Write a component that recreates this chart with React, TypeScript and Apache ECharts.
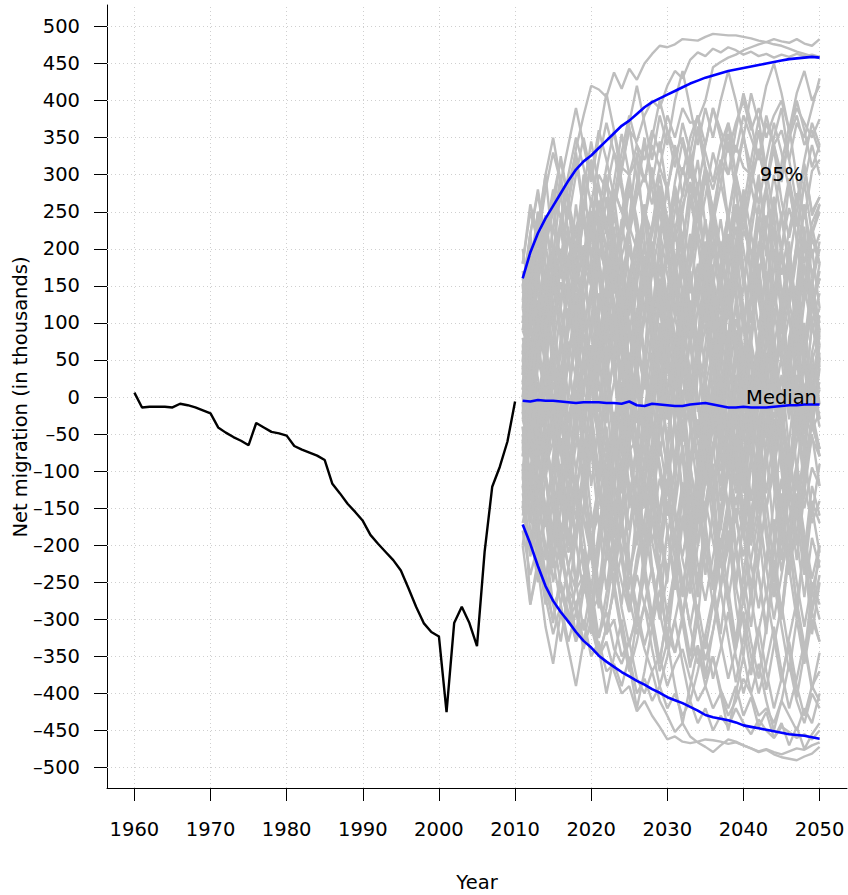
import { useEffect, useRef } from "react";
import * as echarts from "echarts";

// Observed net migration, 1960-2010 (thousands)
const historyYears = [
  1960, 1961, 1962, 1963, 1964, 1965, 1966, 1967, 1968, 1969,
  1970, 1971, 1972, 1973, 1974, 1975, 1976, 1977, 1978, 1979,
  1980, 1981, 1982, 1983, 1984, 1985, 1986, 1987, 1988, 1989,
  1990, 1991, 1992, 1993, 1994, 1995, 1996, 1997, 1998, 1999,
  2000, 2001, 2002, 2003, 2004, 2005, 2006, 2007, 2008, 2009, 2010,
];
const historyValues = [
  6, -14, -13, -13, -13, -14, -9, -11, -14, -18,
  -22, -41, -48, -54, -59, -65, -35, -41, -47, -49,
  -52, -66, -71, -75, -79, -85, -117, -130, -144, -155,
  -167, -186, -198, -209, -220, -234, -258, -283, -305, -317,
  -323, -425, -305, -283, -305, -336, -209, -121, -94, -60, -6,
];

// Projection horizon
const projectionYears = [
  2011, 2012, 2013, 2014, 2015, 2016, 2017, 2018, 2019, 2020,
  2021, 2022, 2023, 2024, 2025, 2026, 2027, 2028, 2029, 2030,
  2031, 2032, 2033, 2034, 2035, 2036, 2037, 2038, 2039, 2040,
  2041, 2042, 2043, 2044, 2045, 2046, 2047, 2048, 2049, 2050,
];
const medianValues = [
  -5, -6, -4, -5, -5, -6, -7, -8, -7, -7,
  -7, -8, -8, -9, -6, -11, -12, -9, -10, -11,
  -12, -12, -10, -9, -8, -10, -12, -14, -14, -13,
  -14, -14, -14, -13, -12, -11, -11, -10, -10, -10,
];
const upper95 = [
  160, 195, 221, 241, 258, 275, 292, 307, 318, 326,
  336, 346, 356, 366, 373, 382, 391, 398, 403, 408,
  413, 418, 423, 427, 431, 434, 437, 440, 442, 444,
  446, 448, 450, 452, 454, 456, 457, 458, 459, 458,
];
const lower95 = [
  -172, -198, -228, -255, -275, -290, -303, -317, -329, -338,
  -349, -357, -364, -371, -377, -383, -388, -394, -399, -405,
  -409, -413, -418, -423, -429, -432, -434, -436, -439, -443,
  -445, -447, -449, -451, -453, -455, -456, -457, -459, -461,
];

// Simulated trajectories 2011-2050
const trajectories = [
  [150, 205, 175, 245, 225, 290, 265, 335, 380, 420, 415, 405, 438, 416, 443, 428, 450, 463, 474, 472, 476, 483, 482, 481, 486, 490, 489, 488, 488, 486, 484, 481, 479, 476, 474, 470, 466, 463, 460, 458],
  [60, 110, 80, 140, 170, 130, 190, 220, 180, 250, 230, 290, 260, 310, 300, 340, 320, 360, 330, 380, 350, 390, 370, 373, 400, 445, 452, 458, 462, 468, 472, 476, 479, 483, 480, 478, 483, 477, 474, 483],
  [90, 60, 130, 100, 160, 200, 170, 230, 260, 240, 300, 280, 330, 310, 360, 345, 380, 400, 390, 420, 440, 430, 455, 465, 460, 470, 465, 472, 468, 462, 466, 460, 463, 458, 462, 459, 463, 460, 462, 459],
  [40, 80, 50, 110, 70, 130, 160, 120, 180, 150, 200, 170, 140, 190, 230, 200, 250, 220, 270, 240, 210, 260, 290, 250, 310, 280, 320, 300, 340, 310, 300, 330, 290, 340, 360, 320, 370, 350, 390, 430],
  [20, 70, 110, 90, 150, 130, 190, 210, 170, 230, 260, 220, 280, 250, 300, 320, 290, 340, 310, 360, 330, 300, 350, 380, 340, 390, 360, 330, 370, 400, 360, 390, 350, 380, 400, 360, 390, 370, 350, 375],
  [100, 140, 110, 170, 200, 160, 220, 190, 240, 210, 260, 230, 280, 250, 220, 270, 300, 260, 310, 280, 330, 350, 310, 360, 330, 290, 340, 370, 330, 380, 350, 320, 370, 340, 300, 350, 380, 340, 360, 330],
  [-120, -160, -140, -200, -230, -210, -260, -280, -250, -300, -320, -290, -340, -360, -330, -380, -400, -370, -410, -430, -452, -440, -458, -466, -472, -479, -470, -462, -465, -470, -474, -479, -476, -482, -486, -488, -490, -485, -481, -472],
  [-150, -200, -180, -240, -280, -260, -300, -280, -330, -310, -350, -330, -370, -400, -390, -424, -410, -430, -445, -462, -458, -465, -467, -465, -462, -463, -465, -468, -466, -470, -474, -478, -475, -479, -482, -478, -474, -476, -470, -466],
  [-100, -280, -220, -260, -300, -250, -290, -330, -300, -350, -330, -370, -360, -390, -350, -400, -380, -410, -390, -420, -400, -430, -410, -440, -420, -450, -430, -445, -420, -440, -455, -435, -450, -460, -445, -452, -460, -455, -462, -450],
  [-60, -110, -80, -150, -190, -170, -230, -260, -240, -290, -270, -320, -300, -350, -330, -300, -340, -370, -350, -390, -360, -340, -380, -410, -390, -420, -400, -430, -410, -380, -400, -430, -420, -440, -410, -430, -450, -420, -440, -400],
  [-30, -70, -45, -95, -60, -120, -150, -110, -165, -190, -160, -220, -205, -250, -290, -240, -280, -310, -260, -320, -345, -300, -360, -335, -380, -350, -395, -420, -390, -430, -405, -445, -425, -460, -440, -470, -445, -475, -455, -440],
  [30, 107, -24, 28, 165, 89, -10, 21, 129, 176, 8, 27, 114, 63, -73, -56, -130, 3, 73, 46, 181, 223, 101, 131, 88, 179, -9, -48, 47, 62, -54, -109, 52, 77, -21, 81, 123, -29, -46, 39],
  [-60, -140, -35, -110, -190, -90, -150, -40, -130, -220, -120, -200, -260, -150, -60, -170, -110, -230, -290, -180, -240, -130, -210, -300, -190, -250, -150, -90, -200, -270, -170, -240, -320, -210, -130, -230, -300, -190, -260, -220],
  [80, 20, 130, 60, 180, 230, 140, 70, 160, 250, 190, 90, 30, 120, 200, 150, 240, 310, 210, 130, 60, 150, 90, -20, 70, 160, 110, 190, 260, 170, 100, 200, 280, 190, 120, 30, 110, 60, 150, 200],
  [-110, -40, -150, -90, -20, -120, -200, -100, -30, 40, -60, -160, -80, 10, -70, -170, -240, -150, -60, -130, -30, 50, -40, -130, -60, 20, 100, 10, -90, -20, 60, -40, -130, -50, 30, -70, -150, -80, 10, -40],
  [140, 190, 110, 200, 260, 180, 90, 170, 240, 150, 220, 290, 210, 130, 40, 110, 190, 120, 50, 140, 230, 170, 260, 320, 230, 150, 210, 130, 60, 150, 240, 300, 220, 140, 190, 110, 40, 130, 200, 120],
  [-20, 60, -40, -110, -20, 40, -60, 30, 110, 20, -70, -150, -60, 20, -80, -160, -90, 0, 80, -10, -100, -30, -130, -200, -110, -30, 50, -40, -120, -50, 30, -60, -150, -80, -170, -240, -150, -70, -160, -90],
  [50, -30, 70, 140, 60, -20, -100, -20, 60, -40, 30, 110, 190, 100, 170, 90, 10, 90, -10, 70, 150, 60, -30, 50, 130, 60, 140, 220, 130, 50, -30, 50, 140, 60, -20, 70, 150, 70, 160, 90],
  [-150, -90, -190, -250, -170, -100, -200, -130, -230, -290, -200, -120, -210, -280, -190, -110, -30, -120, -200, -110, -190, -260, -180, -90, -170, -250, -320, -230, -150, -240, -310, -220, -140, -230, -300, -210, -130, -220, -290, -200],
  [110, 40, 130, 70, -10, 80, 160, 90, 10, 100, 180, 110, 30, -50, 40, 120, 50, -30, 60, 140, 70, -10, 80, 160, 240, 150, 70, 160, 80, 0, 90, 170, 100, 20, -60, 30, 110, 40, -40, 50],
  [-80, 0, -90, -30, 60, -20, -110, -40, 50, -30, -120, -200, -120, -40, -120, -200, -110, -30, -100, -180, -260, -170, -90, -170, -80, 0, -80, -160, -70, 10, -70, -150, -230, -140, -60, -140, -220, -130, -50, -120],
  [170, 110, 200, 140, 230, 300, 220, 160, 250, 190, 120, 200, 270, 190, 110, 180, 260, 190, 120, 200, 280, 210, 140, 220, 300, 220, 150, 240, 170, 100, 180, 260, 190, 270, 200, 130, 210, 290, 220, 250],
  [0, -70, 20, -50, -120, -40, 50, -30, -110, -30, 50, 130, 50, -30, 60, -20, -100, -10, 70, -10, -90, -10, 80, 0, -80, 10, -70, -150, -60, 20, -60, 30, 110, 30, -50, 40, -40, 50, 130, 50],
  [-130, -200, -120, -50, -130, -210, -270, -190, -110, -190, -270, -180, -250, -160, -80, -160, -240, -310, -220, -140, -220, -300, -210, -130, -210, -280, -190, -260, -330, -240, -160, -240, -310, -220, -290, -200, -280, -350, -260, -300],
  [60, 130, 70, 150, 90, 20, 100, 180, 110, 40, 120, 200, 130, 60, 140, 220, 150, 80, 160, 90, 20, 100, 180, 260, 180, 100, 180, 250, 170, 90, 170, 240, 160, 80, -10, 70, 150, 80, 10, 90],
  [-30, 40, 110, 40, -40, 30, -50, -130, -50, 30, 110, 40, -40, 40, 120, 200, 120, 40, 120, 50, -30, 50, 130, 60, -20, 60, -20, -100, -20, 60, 140, 60, -20, 60, -20, -100, -30, 50, 130, 70],
  [120, 60, -10, 70, 150, 80, 0, 80, 160, 240, 160, 80, 160, 90, 10, 90, 170, 100, 20, -60, 20, 100, 30, -50, 30, 110, 40, 120, 200, 120, 40, -40, 40, 120, 50, -30, 50, -30, 60, -10],
  [-90, -160, -80, -150, -230, -150, -70, -140, -220, -290, -200, -120, -40, -120, -40, 40, -40, -120, -200, -120, -200, -270, -180, -100, -180, -260, -170, -90, -170, -90, -10, -90, -170, -250, -160, -80, -160, -240, -150, -210],
  [90, 170, 250, 180, 100, 180, 260, 190, 110, 30, 110, 190, 110, 30, -50, 30, 110, 190, 270, 190, 110, 190, 120, 40, 120, 200, 130, 50, -30, 50, 130, 210, 130, 50, -30, 50, -30, 60, 140, 80],
  [-50, -120, -190, -110, -30, -110, -190, -110, -190, -260, -180, -100, -20, -100, -180, -100, -20, 60, -20, -100, -30, 50, 130, 50, -30, 50, -30, -110, -30, -110, -190, -110, -30, 50, -30, -110, -190, -270, -190, -230],
  [20, -40, 40, 120, 50, -30, 50, 130, 60, -20, -100, -20, 60, 140, 220, 140, 60, -20, 60, -20, 60, 140, 70, -10, -90, -10, 70, -10, -90, -170, -90, -10, 70, 150, 70, -10, 70, 150, 230, 180],
  [70, 95, 160, 120, 175, 240, 215, 150, 190, 265, 230, 175, 105, 170, 205, 150, 110, 185, 250, 210, 140, 180, 95, 60, 130, 210, 165, 105, 150, 225, 195, 130, 70, 125, 190, 160, 100, 55, 120, 160],
  [-170, -120, -200, -160, -95, -140, -210, -175, -105, -60, -130, -180, -115, -175, -240, -190, -130, -195, -150, -90, -150, -220, -265, -200, -140, -195, -250, -205, -135, -185, -255, -210, -150, -100, -160, -230, -180, -120, -170, -140],
  [40, -5, -60, 10, 70, 30, -35, 20, 85, 45, -10, 55, 110, 60, -5, 50, 120, 180, 120, 55, 110, 170, 110, 40, 95, 35, -30, 25, 90, 40, -20, 45, 105, 55, -10, 50, 110, 60, 0, 70],
  [-60, -15, 50, 10, -45, 20, 75, 25, -40, 15, 80, 140, 90, 25, 85, 30, -35, 20, -45, 10, 70, 25, -35, -95, -40, 15, -50, -110, -55, 5, 60, 5, -55, -5, 55, 110, 60, -5, 45, 10],
  [130, 95, 40, 100, 160, 120, 60, 115, 170, 230, 185, 125, 180, 235, 290, 240, 175, 230, 285, 225, 165, 215, 270, 210, 150, 90, 150, 205, 260, 200, 135, 190, 245, 185, 240, 295, 240, 180, 235, 260],
  [-110, -165, -120, -60, -115, -175, -230, -180, -120, -175, -120, -60, -115, -60, 0, -55, -115, -60, -5, 50, 0, -60, -5, -60, -120, -65, -10, -70, -130, -75, -20, 35, -20, -80, -25, -85, -145, -90, -30, -80],
  [10, 75, 25, -40, 20, -35, -95, -40, 15, 70, 20, -35, 20, 80, 25, -35, 25, -30, -90, -150, -95, -40, 15, 70, 125, 70, 10, 60, 120, 60, 0, 55, -5, -65, -5, 55, 0, -60, -10, 20],
  [100, 150, 210, 160, 100, 155, 95, 150, 205, 150, 90, 30, 85, 140, 85, 25, -30, 25, 80, 140, 85, 25, 80, 140, 200, 145, 85, 140, 80, 20, 75, 20, 80, 140, 85, 145, 205, 150, 90, 120],
  [-20, -75, -130, -70, -125, -185, -125, -65, -5, -60, -120, -180, -235, -175, -115, -170, -225, -170, -110, -160, -100, -40, -95, -150, -90, -145, -205, -150, -90, -145, -200, -145, -85, -30, -85, -145, -90, -150, -95, -120],
  [60, 10, -45, 10, 70, 25, -30, 30, 90, 150, 95, 40, 100, 160, 100, 45, 105, 165, 225, 165, 110, 50, 105, 165, 110, 50, -10, 45, 105, 50, -5, 55, 115, 60, 0, 55, 115, 175, 120, 90],
  [150, 220, 275, 205, 250, 325, 265, 215, 280, 345, 285, 235, 290, 355, 300, 225, 165, 220, 285, 215, 290, 345, 295, 365, 305, 240, 310, 355, 300, 255, 320, 375, 305, 245, 315, 365, 295, 240, 305, 320],
  [-140, -215, -165, -240, -305, -235, -185, -250, -315, -255, -325, -265, -210, -285, -335, -290, -225, -295, -355, -295, -240, -305, -365, -300, -375, -315, -260, -325, -385, -325, -270, -335, -395, -335, -280, -345, -405, -345, -290, -330],
  [40, 115, 180, 245, 165, 225, 285, 330, 255, 315, 245, 195, 255, 305, 365, 295, 240, 290, 345, 275, 225, 275, 325, 255, 310, 245, 195, 245, 305, 355, 285, 235, 285, 335, 265, 215, 265, 315, 245, 270],
  [-40, -115, -180, -245, -185, -255, -305, -255, -205, -275, -325, -285, -215, -165, -225, -285, -335, -295, -225, -295, -345, -295, -245, -305, -355, -315, -255, -195, -255, -305, -375, -315, -265, -325, -385, -325, -275, -335, -395, -345],
  [0, 65, 125, 70, 145, 195, 155, 85, 150, 215, 265, 225, 155, 105, 165, 215, 175, 105, 175, 225, 285, 245, 175, 245, 295, 255, 185, 135, 195, 255, 195, 145, 75, 145, 205, 255, 215, 145, 215, 180],
  [-100, -45, -115, -175, -125, -55, -135, -195, -265, -195, -145, -75, -155, -205, -285, -215, -165, -95, -175, -235, -185, -115, -195, -125, -75, -145, -215, -275, -205, -155, -225, -285, -215, -165, -235, -165, -115, -185, -245, -200],
  [50, 5, -65, -15, 45, -35, -95, -165, -95, -45, -115, -165, -105, -185, -235, -185, -115, -195, -245, -185, -135, -65, -145, -195, -145, -75, -25, -95, -145, -85, -35, 35, -45, -95, -35, -115, -165, -105, -55, -80],
  [-10, 55, 105, 45, 125, 175, 125, 55, 125, 185, 235, 175, 125, 55, 135, 65, 15, 75, 125, 195, 125, 75, 5, -55, 15, 65, 5, -45, -115, -45, 15, 75, 125, 65, 135, 185, 125, 75, 125, 160],
  [160, 105, 165, 235, 165, 115, 45, 115, 165, 235, 285, 225, 175, 225, 295, 225, 175, 105, 175, 115, 55, 105, 175, 225, 175, 235, 285, 345, 275, 225, 285, 335, 285, 215, 165, 225, 275, 215, 165, 200],
  [-160, -95, -45, -105, -155, -225, -155, -105, -165, -215, -285, -215, -165, -95, -45, 25, -35, -105, -35, -95, -165, -215, -155, -225, -275, -215, -165, -95, -165, -215, -155, -95, -35, -105, -155, -95, -45, 15, -45, -20],
  [180, 250, 210, 280, 330, 290, 240, 300, 350, 300, 360, 320, 270, 330, 380, 340, 290, 350, 400, 360, 310, 370, 330, 280, 340, 390, 350, 300, 360, 410, 370, 320, 380, 340, 290, 350, 400, 360, 310, 340],
  [-180, -240, -200, -270, -320, -280, -230, -290, -340, -300, -350, -310, -260, -320, -370, -330, -280, -340, -390, -350, -300, -360, -410, -370, -320, -380, -340, -290, -350, -400, -360, -310, -370, -420, -380, -330, -390, -430, -390, -410],
  [20, 90, 150, 220, 280, 240, 300, 350, 310, 260, 320, 370, 330, 280, 220, 280, 340, 300, 250, 190, 250, 310, 270, 220, 270, 330, 290, 240, 300, 350, 310, 260, 320, 370, 330, 280, 230, 290, 340, 300],
  [-70, -130, -200, -260, -220, -280, -330, -290, -240, -300, -350, -310, -260, -210, -270, -320, -280, -230, -290, -340, -300, -250, -310, -360, -320, -270, -330, -380, -340, -290, -350, -400, -360, -310, -370, -420, -380, -330, -390, -370],
  [0, 120, -40, 30, 160, 90, -60, 20, 150, 230, 110, -20, 60, 180, 40, -70, 50, 190, 140, 10, -90, 40, 170, 70, 200, 120, -30, 80, 210, 100, -40, -130, 20, 150, 60, 190, 80, -50, 60, 110],
  [-40, -170, -90, 40, -60, -200, -130, 10, -80, -210, -100, 30, 120, -20, -150, -60, 70, -40, -180, -250, -120, 10, -90, 30, 140, 0, -140, -50, 80, -40, -170, -70, 60, -60, -190, -110, 20, -80, 40, -30],
  [70, -30, 100, 210, 120, -10, 90, 200, 300, 180, 60, 150, 40, -80, 30, 160, 250, 130, 20, 110, 230, 140, 10, -90, 40, 150, 70, 190, 290, 170, 60, -50, 80, 200, 110, -20, 90, 220, 130, 160],
  [-100, 20, -110, -220, -130, -10, -140, -260, -150, -40, 70, -60, -190, -90, -220, -310, -200, -80, -170, -60, 50, -80, -200, -110, 10, -110, -230, -140, -260, -160, -30, -150, -60, 60, -70, -190, -100, -230, -140, -170],
  [150, 40, 160, 70, 190, 280, 160, 60, 180, 90, -20, 100, 220, 130, 240, 330, 210, 100, 200, 80, -30, 90, 190, 290, 170, 50, 160, 60, 180, 270, 150, 40, 140, 250, 140, 30, 150, 260, 160, 210],
  [-150, -40, -170, -80, 40, -70, -200, -110, -230, -320, -200, -90, -210, -110, 10, -100, -220, -130, -240, -330, -220, -120, -230, -130, -20, -140, -260, -160, -50, -170, -280, -180, -70, -190, -300, -200, -90, -210, -320, -250],
  [30, 150, 250, 140, 30, 120, 230, 110, 0, 100, 210, 300, 190, 70, 170, 50, -60, 40, 150, 60, 180, 70, -40, 60, 170, 250, 140, 30, 130, 20, -90, 10, 120, 230, 110, 210, 100, -10, 100, 50],
  [-10, -120, 0, -100, -220, -120, 0, 110, -10, -120, -40, 70, -50, -160, -260, -150, -40, -140, -30, 80, -30, -140, -50, 60, 150, 40, -70, 30, -80, -190, -90, 20, -90, 10, 120, 20, -100, -10, 100, 40],
  [100, 190, 90, -20, 80, 180, 260, 160, 50, 140, 30, 130, 230, 120, 10, 110, 210, 110, 210, 290, 180, 70, 170, 60, -50, 60, 160, 250, 150, 40, 140, 240, 130, 20, 120, 30, 130, 230, 120, 180],
  [-70, 40, -60, -170, -90, 20, -80, -200, -100, 10, 100, 0, -110, -30, -150, -60, 50, -50, -170, -80, 30, -70, -180, -270, -160, -60, -170, -80, 30, -80, -190, -100, 10, -90, -200, -110, 0, -110, -30, -70],
  [200, 130, 230, 300, 200, 120, 220, 150, 250, 320, 230, 150, 250, 170, 80, 170, 260, 180, 280, 200, 110, 200, 290, 210, 130, 230, 320, 240, 160, 250, 170, 90, 180, 270, 190, 290, 210, 130, 220, 260],
  [-200, -120, -210, -280, -190, -110, -200, -130, -230, -300, -210, -130, -220, -150, -60, -140, -230, -160, -250, -330, -240, -160, -250, -170, -90, -170, -260, -180, -280, -350, -260, -180, -270, -190, -110, -190, -280, -200, -290, -240],
  [10, 90, 170, 80, -20, 60, 150, 70, -30, 60, -40, -130, -40, 50, -40, 60, 150, 70, -20, 70, 160, 80, -10, 80, 170, 90, 0, 90, -10, -100, -10, 80, 170, 80, -20, 70, -30, 60, 150, 100],
  [-20, -110, -30, 60, -40, -140, -50, 40, 130, 40, -60, 30, -70, -160, -70, 20, -80, 10, 100, 0, -100, -10, -110, -200, -110, -20, -120, -30, 60, -40, -140, -50, 40, -60, -150, -60, 30, -70, 20, -30],
  [60, 0, 90, 170, 100, 30, 120, 50, -30, 50, 140, 70, 160, 240, 160, 80, 170, 90, 10, 100, 190, 110, 30, 120, 210, 130, 50, 140, 60, -20, 70, 160, 80, 170, 250, 170, 90, 180, 100, 140],
  [-60, 10, -80, -160, -90, -10, -100, -30, 60, -20, -110, -40, -130, -220, -140, -60, -150, -70, 20, -60, -150, -70, -160, -250, -170, -90, -180, -100, -10, -90, -180, -100, -190, -270, -190, -110, -200, -120, -30, -80],
  [120, 220, 140, 50, 150, 240, 160, 260, 170, 80, 180, 270, 180, 90, 0, 100, 190, 110, 210, 120, 30, 130, 220, 140, 240, 150, 60, 160, 250, 170, 80, 180, 90, 0, 100, 190, 110, 210, 120, 170],
  [-120, -210, -130, -40, -140, -230, -150, -250, -160, -70, -170, -260, -180, -90, 0, -100, -190, -110, -210, -120, -30, -130, -220, -140, -240, -150, -60, -160, -250, -170, -80, -180, -90, 0, -100, -190, -110, -210, -120, -160],
  [40, -60, 50, 150, 60, -40, 60, -50, 40, 140, 240, 150, 50, 140, 40, -60, 30, 130, 30, -70, 20, 120, 220, 130, 30, 120, 20, -80, 10, 110, 10, -90, 0, 100, 200, 110, 10, 100, 0, 60],
  [-80, 20, -70, -170, -80, 20, -70, 30, -60, -160, -260, -170, -70, -160, -60, 40, -50, -150, -50, 50, -40, -140, -240, -150, -50, -140, -40, 60, -30, -130, -30, 70, -20, -120, -220, -130, -30, -120, -20, -70],
  [90, 140, 60, 130, 200, 130, 190, 110, 180, 250, 170, 90, 160, 80, 150, 220, 150, 210, 130, 200, 270, 190, 110, 180, 100, 170, 240, 170, 230, 150, 220, 290, 210, 130, 200, 120, 190, 260, 190, 220],
  [-120, -70, -150, -80, -10, -80, -20, -100, -30, 40, -40, -120, -50, -130, -60, 10, -60, 0, -80, -10, 60, -20, -100, -30, -110, -40, 30, -40, 20, -60, 10, 80, 0, -80, -10, -90, -20, 50, -20, 10],
  [0, 40, 100, 50, -10, 30, 90, 140, 80, 20, 60, 120, 170, 110, 50, 90, 150, 90, 30, -30, 10, 70, 10, -50, -10, 50, 110, 50, -10, 30, 90, 150, 90, 30, 70, 130, 70, 10, 50, 80],
  [20, -30, -90, -40, 20, -20, -80, -130, -70, -10, -50, -110, -160, -100, -40, -80, -140, -80, -20, 40, 0, -60, 0, 60, 20, -40, -100, -40, 20, -20, -80, -140, -80, -20, -60, -120, -60, 0, -40, -70],
  [-200, -280, -230, -310, -360, -290, -340, -390, -330, -280, -340, -400, -350, -300, -360, -420, -370, -310, -370, -330, -390, -440, -390, -340, -390, -350, -400, -450, -400, -350, -400, -360, -410, -450, -410, -360, -410, -440, -400, -420],
  [180, 260, 220, 300, 350, 290, 340, 390, 340, 290, 350, 410, 360, 310, 370, 420, 370, 320, 380, 340, 400, 440, 390, 340, 390, 350, 400, 440, 400, 350, 410, 370, 420, 450, 410, 360, 410, 440, 400, 420],
  [-90, -180, -250, -200, -280, -330, -260, -320, -250, -190, -260, -320, -250, -310, -370, -300, -240, -300, -360, -290, -230, -290, -350, -280, -340, -280, -220, -280, -340, -270, -330, -380, -310, -250, -310, -370, -300, -360, -300, -330],
  [130, 220, 280, 210, 270, 320, 260, 200, 260, 320, 250, 310, 360, 290, 230, 290, 350, 280, 220, 280, 340, 270, 330, 380, 310, 250, 310, 370, 300, 240, 300, 360, 290, 350, 390, 320, 260, 320, 370, 340],
  [-50, -150, -230, -160, -250, -190, -270, -330, -260, -200, -270, -210, -140, -220, -290, -230, -170, -240, -300, -240, -180, -250, -310, -250, -190, -260, -200, -140, -210, -280, -220, -160, -230, -300, -240, -180, -250, -310, -250, -280],
  [50, 150, 220, 150, 230, 180, 260, 320, 250, 190, 260, 200, 140, 210, 280, 220, 160, 230, 300, 240, 180, 250, 310, 250, 190, 260, 200, 140, 210, 280, 220, 160, 230, 300, 240, 180, 250, 310, 250, 270],
];

// Axis tick positions
const xTicks = [1960, 1970, 1980, 1990, 2000, 2010, 2020, 2030, 2040, 2050];
const yTicks = [-500, -450, -400, -350, -300, -250, -200, -150, -100, -50, 0, 50, 100, 150, 200, 250, 300, 350, 400, 450, 500];

// Text annotations placed in data coordinates
const annotations = [
  { year: 2045, value: 300, text: "95%" },
  { year: 2045, value: 0, text: "Median" },
];

const FONT = "'DejaVu Sans', 'Liberation Sans', Arial, sans-serif";
const FONT_SIZE = 19.5;

export default function App() {
  const ref = useRef<HTMLDivElement>(null);

  useEffect(() => {
    const chart = echarts.init(ref.current!, null, { renderer: "svg" });
    // Negative tick labels use a dash of digit-like width
    const signed = (v: number) => String(v).replace("-", "\u2013");

    const lineSeries = (name: string, years: number[], vals: number[], color: string, width: number, z: number) => ({
      type: "line",
      name,
      data: years.map((yr, i) => [yr, vals[i]]),
      showSymbol: false,
      symbol: "none",
      silent: true,
      z,
      lineStyle: { color, width },
      emphasis: { disabled: true },
    });

    const simSeries = trajectories.map((traj, k) =>
      lineSeries("sim" + k, projectionYears, traj, "#bebebe", 2.4, 2)
    );
    const bandSeries = [
      lineSeries("upper", projectionYears, upper95, "#0000ff", 2.6, 3),
      lineSeries("median", projectionYears, medianValues, "#0000ff", 2.6, 3),
      lineSeries("lower", projectionYears, lower95, "#0000ff", 2.6, 3),
    ];
    const history = {
      ...lineSeries("history", historyYears, historyValues, "#000", 2.4, 4),
      markLine: {
        silent: true,
        z: 1,
        symbol: ["none", "none"],
        label: { show: false },
        emphasis: { disabled: true },
        lineStyle: { color: "#cfcfcf", width: 1, type: [1, 3] },
        data: [
          ...xTicks.map((v) => ({ xAxis: v })),
          ...yTicks.map((v) => ({ yAxis: v })),
        ],
      },
    };

    const textStyle = { fontSize: FONT_SIZE, fontFamily: FONT, fill: "#000", align: "center", verticalAlign: "middle" };

    chart.setOption({
      animation: false,
      grid: { left: 107, right: 1, top: 5, bottom: 107 },
      xAxis: {
        type: "value",
        min: 1956.4,
        max: 2053.6,
        axisLine: { show: true, onZero: false, lineStyle: { color: "#000", width: 1 } },
        axisTick: { show: true, length: 13, customValues: xTicks, lineStyle: { color: "#000", width: 1 } },
        axisLabel: { customValues: xTicks, margin: 31, fontSize: FONT_SIZE, color: "#000", fontFamily: FONT, formatter: (v: number) => String(v) },
        splitLine: { show: false },
      },
      yAxis: {
        type: "value",
        min: -527.5,
        max: 529,
        axisLine: { show: true, onZero: false, lineStyle: { color: "#000", width: 1 } },
        axisTick: { show: true, length: 13, customValues: yTicks, lineStyle: { color: "#000", width: 1 } },
        axisLabel: { customValues: yTicks, margin: 27, fontSize: FONT_SIZE, color: "#000", fontFamily: FONT, formatter: signed },
        splitLine: { show: false },
      },
      series: [...simSeries, ...bandSeries, history],
    });

    // Axis titles and in-plot annotations
    const annotationTexts = annotations.map((a) => {
      const [px, py] = chart.convertToPixel({ xAxisIndex: 0, yAxisIndex: 0 }, [a.year, a.value]) as number[];
      return { type: "text", x: px, y: py, z: 100, style: { ...textStyle, text: a.text } };
    });
    chart.setOption({
      graphic: [
        { type: "text", x: 477, y: 882, z: 100, style: { ...textStyle, text: "Year" } },
        { type: "text", x: 20, y: 397, z: 100, rotation: Math.PI / 2, style: { ...textStyle, text: "Net migration (in thousands)" } },
        ...annotationTexts,
      ],
    });

    return () => chart.dispose();
  }, []);

  return (
    <div
      ref={ref}
      style={{ position: "fixed", left: 0, top: 0, width: 848, height: 895, background: "#fff" }}
    />
  );
}
